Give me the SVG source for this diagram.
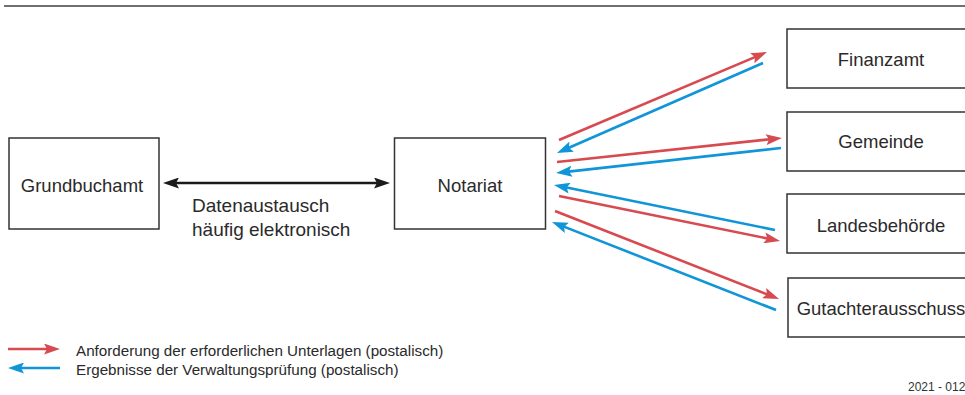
<svg xmlns="http://www.w3.org/2000/svg" width="965" height="395" viewBox="0 0 965 395">
<defs>
<style>
.box{fill:#fff;stroke:#333;stroke-width:1.5}
.lbl{font-family:"Liberation Sans",Arial,sans-serif;font-size:18.5px;fill:#2a2a2a}
.leg{font-family:"Liberation Sans",Arial,sans-serif;font-size:15.2px;fill:#2a2a2a}
.red{stroke:#d64a50;stroke-width:2.6;fill:none;marker-end:url(#ar)}
.blue{stroke:#0f95d8;stroke-width:2.6;fill:none;marker-end:url(#ab)}
</style>
<marker id="ar" viewBox="0 0 16 11" markerWidth="16" markerHeight="11" refX="8" refY="5.5" orient="auto" markerUnits="userSpaceOnUse"><path d="M0,0 L16,5.5 L0,11 L3,5.5 z" fill="#d64a50"/></marker>
<marker id="ab" viewBox="0 0 16 11" markerWidth="16" markerHeight="11" refX="8" refY="5.5" orient="auto" markerUnits="userSpaceOnUse"><path d="M0,0 L16,5.5 L0,11 L3,5.5 z" fill="#0f95d8"/></marker>
<marker id="ak" viewBox="0 0 16 11" markerWidth="16" markerHeight="11" refX="8" refY="5.5" orient="auto-start-reverse" markerUnits="userSpaceOnUse"><path d="M0,0 L16,5.5 L0,11 L3,5.5 z" fill="#1a1a1a"/></marker>
</defs>
<rect width="965" height="395" fill="#fff"/>
<line x1="4" y1="6" x2="965" y2="6" stroke="#707070" stroke-width="2"/>

<g id="grundbuchamt"><rect class="box" x="9" y="138" width="150" height="91"/><text class="lbl" x="82" y="192" text-anchor="middle">Grundbuchamt</text></g>
<g id="notariat"><rect class="box" x="394.5" y="138" width="151" height="91"/><text class="lbl" x="470" y="192" text-anchor="middle">Notariat</text></g>
<g id="finanzamt"><rect class="box" x="787" y="29" width="190" height="59"/><text class="lbl" x="881" y="66" text-anchor="middle">Finanzamt</text></g>
<g id="gemeinde"><rect class="box" x="787" y="112" width="190" height="59"/><text class="lbl" x="881" y="148" text-anchor="middle">Gemeinde</text></g>
<g id="landesbehoerde"><rect class="box" x="787" y="194" width="190" height="59"/><text class="lbl" x="881" y="232" text-anchor="middle">Landesbehörde</text></g>
<g id="gutachterausschuss"><rect class="box" x="788" y="278" width="190" height="59"/><text class="lbl" x="881" y="315" text-anchor="middle">Gutachterausschuss</text></g>

<g id="connectors">
<line x1="171" y1="183" x2="382" y2="183" stroke="#1a1a1a" stroke-width="2.6" marker-start="url(#ak)" marker-end="url(#ak)"/>
<text class="lbl" x="192" y="212" font-size="19px" style="font-size:19px">Datenaustausch</text>
<text class="lbl" x="192" y="236" style="font-size:19px">häufig elektronisch</text>
<line class="red" x1="559" y1="140" x2="759.6" y2="55.1"/>
<line class="blue" x1="763" y1="63" x2="564.3" y2="149.8"/>
<line class="red" x1="557" y1="162" x2="774" y2="138.8"/>
<line class="blue" x1="781" y1="148" x2="564" y2="172.1"/>
<line class="blue" x1="775" y1="230" x2="561.8" y2="186.6"/>
<line class="red" x1="559" y1="196" x2="772.2" y2="239.4"/>
<line class="red" x1="555" y1="211" x2="771.6" y2="296.1"/>
<line class="blue" x1="776" y1="310" x2="559.4" y2="224.9"/>
</g>

<g id="legend">
<line class="red" x1="8" y1="349" x2="52" y2="349"/>
<line class="blue" x1="60" y1="368" x2="16" y2="368"/>
<text class="leg" x="76" y="356">Anforderung der erforderlichen Unterlagen (postalisch)</text>
<text class="leg" x="76" y="375">Ergebnisse der Verwaltungsprüfung (postalisch)</text>
</g>
<text x="908" y="391" font-family="'Liberation Sans',Arial,sans-serif" font-size="12" fill="#333">2021 - 012</text>
</svg>
